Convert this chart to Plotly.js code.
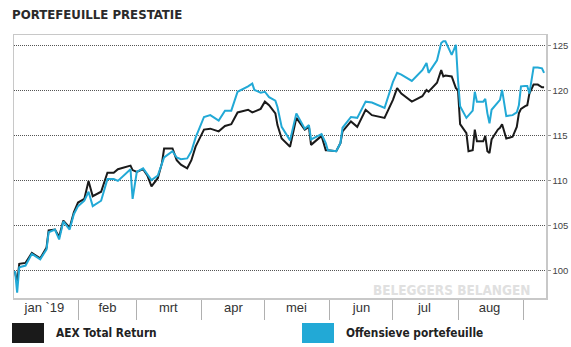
<!DOCTYPE html>
<html>
<head>
<meta charset="utf-8">
<script src="https://cdn.plot.ly/plotly-3.0.1.min.js"></script>
<style>html,body{margin:0;padding:0;background:#fff;}#chart{width:571px;height:347px;}</style>
</head>
<body>
<div id="chart"></div>
<script>
const chartTitle = 'PORTEFEUILLE PRESTATIE';
const seriesNames = ['AEX Total Return', 'Offensieve portefeuille'];
const watermark = 'BELEGGERS BELANGEN';

const dates = [
 '2019-01-02','2019-01-03','2019-01-04','2019-01-07','2019-01-10','2019-01-14','2019-01-17','2019-01-18',
 '2019-01-21','2019-01-23','2019-01-25','2019-01-28','2019-01-30','2019-02-01','2019-02-04','2019-02-06',
 '2019-02-08','2019-02-12','2019-02-15','2019-02-18','2019-02-20','2019-02-26','2019-02-27','2019-03-01',
 '2019-03-04','2019-03-06','2019-03-08','2019-03-11','2019-03-13','2019-03-14','2019-03-18','2019-03-20',
 '2019-03-22','2019-03-25','2019-03-27','2019-03-29','2019-04-02','2019-04-05','2019-04-09','2019-04-12',
 '2019-04-15','2019-04-18','2019-04-23','2019-04-25','2019-04-26','2019-04-29','2019-05-01','2019-05-03',
 '2019-05-06','2019-05-07','2019-05-09','2019-05-13','2019-05-16','2019-05-20','2019-05-22','2019-05-23',
 '2019-05-28','2019-05-30','2019-05-31','2019-06-04','2019-06-06','2019-06-07','2019-06-11','2019-06-14',
 '2019-06-18','2019-06-21','2019-06-27','2019-07-01','2019-07-03','2019-07-05','2019-07-10','2019-07-15',
 '2019-07-17','2019-07-18','2019-07-22','2019-07-24','2019-07-25','2019-07-26','2019-07-29','2019-07-31',
 '2019-08-01','2019-08-02','2019-08-05','2019-08-06','2019-08-08','2019-08-09','2019-08-10','2019-08-13',
 '2019-08-14','2019-08-15','2019-08-16','2019-08-17','2019-08-20','2019-08-21','2019-08-22','2019-08-24',
 '2019-08-27','2019-08-29','2019-08-30','2019-08-31','2019-09-02','2019-09-03','2019-09-04','2019-09-06',
 '2019-09-08','2019-09-10','2019-09-11'
];

const aexTR = [
 99.9, 98.7, 100.8, 100.9, 102.0, 101.4, 102.6, 104.5,
 104.6, 103.8, 105.6, 104.8, 106.5, 107.6, 108.0, 110.0,
 108.3, 108.8, 110.9, 110.9, 111.3, 111.7, 111.2, 111.0,
 111.3, 110.6, 109.4, 110.3, 112.0, 113.6, 113.6, 112.3,
 111.8, 111.4, 112.3, 113.8, 115.7, 115.8, 115.5, 116.1,
 116.3, 117.6, 117.9, 117.6, 117.7, 118.0, 118.8, 118.4,
 117.5, 116.2, 114.7, 113.8, 117.0, 115.7, 116.0, 114.0,
 115.0, 113.4, 113.4, 113.3, 114.2, 115.5, 116.6, 116.0,
 117.9, 117.3, 117.0, 119.0, 120.3, 119.7, 118.8, 119.4,
 120.1, 119.9, 120.9, 122.3, 121.6, 121.7, 121.6, 120.3,
 120.1, 116.3, 115.3, 113.3, 113.4, 115.7, 114.4, 114.4,
 115.0, 113.3, 113.1, 114.6, 115.7, 115.9, 116.3, 114.7,
 114.9, 116.0, 117.5, 118.0, 118.3, 118.4, 119.7, 120.7,
 120.7, 120.4, 120.4
];

const offensief = [
 100.0, 97.6, 100.4, 100.6, 101.9, 101.3, 102.4, 104.3,
 104.6, 103.5, 105.5, 104.6, 106.3, 107.2, 107.8, 108.8,
 107.2, 107.8, 110.2, 110.2, 110.0, 111.3, 108.0, 111.0,
 111.4, 110.8, 110.1, 110.6, 112.0, 112.6, 113.3, 112.6,
 112.4, 112.5, 113.3, 114.8, 117.1, 117.3, 116.7, 117.8,
 117.8, 119.9, 120.5, 120.8, 120.1, 119.8, 119.9, 119.3,
 118.9, 118.2, 116.0, 114.5, 117.5, 115.8, 116.2, 114.6,
 115.2, 114.2, 113.4, 113.3, 114.2, 115.9, 117.1, 117.0,
 118.8, 118.7, 118.1, 121.0, 122.0, 121.8, 121.1, 122.3,
 123.1, 122.0, 123.4, 125.3, 125.5, 125.5, 124.0, 125.1,
 121.2, 118.3, 117.0, 117.3, 117.8, 119.9, 118.8, 118.8,
 119.1, 117.5, 116.4, 117.9, 118.8, 119.0, 120.1, 117.2,
 117.3, 117.6, 118.4, 120.5, 120.55, 120.55, 119.7, 122.6,
 122.6, 122.5, 122.0
];

const monthStarts = ['2019-01-01','2019-02-01','2019-03-01','2019-04-01','2019-05-01','2019-06-01','2019-07-01','2019-08-01','2019-09-01'];
const monthMids = ['2019-01-16','2019-02-15','2019-03-16','2019-04-16','2019-05-16','2019-06-16','2019-07-16','2019-08-16'];
const monthLabels = ['jan `19','feb','mrt','apr','mei','jun','jul','aug'];
const yTicks = [100, 105, 110, 115, 120, 125];

const colors = ['#1a1a1a', '#22a9d6'];

const W = 571, H = 347;
const M = {l: 14, r: 25, t: 35, b: 49};
const PW = W - M.l - M.r, PH = H - M.t - M.b;
const px = x => (x - M.l) / PW;
const py = y => (H - M.b - y) / PH;

const COND = '"DejaVu Sans Condensed", "DejaVu Sans", "Liberation Sans", sans-serif';
const SANS = '"Liberation Sans", Arial, sans-serif';

const traces = [
  {x: dates, y: aexTR, type: 'scatter', mode: 'lines', name: seriesNames[0],
   line: {color: colors[0], width: 2}, xaxis: 'x', yaxis: 'y', hoverinfo: 'skip'},
  {x: dates, y: offensief, type: 'scatter', mode: 'lines', name: seriesNames[1],
   line: {color: colors[1], width: 2}, xaxis: 'x2', yaxis: 'y', hoverinfo: 'skip'}
];

const legendFont = {family: COND, size: 11.8, color: '#222', weight: 'bold'};

const layout = {
  width: W, height: H,
  margin: {l: M.l, r: M.r, t: M.t, b: M.b, pad: 0},
  paper_bgcolor: '#fff', plot_bgcolor: '#fff',
  showlegend: false,
  title: {text: '<b>' + chartTitle + '</b>', x: 12 / W, xref: 'container', xanchor: 'left',
          y: 1 - 14.5 / H, yref: 'container', yanchor: 'middle',
          font: {family: COND, size: 13.1, color: '#2a2a2a'}},
  xaxis: {type: 'date', range: ['2019-01-01 12:00', '2019-09-11 22:00'],
          tickmode: 'array', tickvals: monthStarts, ticks: 'outside', ticklen: 20,
          tickcolor: '#b0b0b0', tickwidth: 1, showticklabels: false,
          showgrid: false, zeroline: false, showline: true, linecolor: '#c8c8c8',
          linewidth: 1.5, mirror: true},
  xaxis2: {type: 'date', overlaying: 'x', anchor: 'y', matches: 'x', side: 'bottom',
           tickmode: 'array', tickvals: monthMids, ticktext: monthLabels, ticks: '',
           showgrid: false, zeroline: false, showline: false,
           tickfont: {family: SANS, size: 13, color: '#333'}},
  yaxis: {side: 'right', range: [97, 126.2], tickmode: 'array', tickvals: yTicks,
          ticks: 'outside', ticklen: 3, tickcolor: '#999', tickwidth: 1,
          showgrid: true, gridcolor: '#555', griddash: '1px,1px', gridwidth: 1,
          zeroline: false, showline: true, linecolor: '#c8c8c8', linewidth: 1.5, mirror: true,
          tickfont: {family: SANS, size: 9.5, color: '#444'}},
  shapes: [
    {type: 'rect', xref: 'paper', yref: 'paper', x0: px(12), x1: px(44), y0: py(343), y1: py(323),
     fillcolor: colors[0], line: {width: 0}},
    {type: 'rect', xref: 'paper', yref: 'paper', x0: px(302), x1: px(334), y0: py(343), y1: py(323),
     fillcolor: colors[1], line: {width: 0}}
  ],
  annotations: [
    {text: seriesNames[0], xref: 'paper', yref: 'paper', x: px(54), y: py(333), xanchor: 'left', yanchor: 'middle',
     showarrow: false, font: legendFont},
    {text: seriesNames[1], xref: 'paper', yref: 'paper', x: px(344), y: py(333), xanchor: 'left', yanchor: 'middle',
     showarrow: false, font: legendFont},
    {text: watermark, xref: 'paper', yref: 'paper', x: px(532), y: py(290), xanchor: 'right', yanchor: 'middle',
     showarrow: false, font: {family: COND, size: 13.5, color: '#e0e0e0', weight: 'bold'}}
  ]
};

Plotly.newPlot('chart', traces, layout, {displayModeBar: false, staticPlot: true});
</script>
</body>
</html>
